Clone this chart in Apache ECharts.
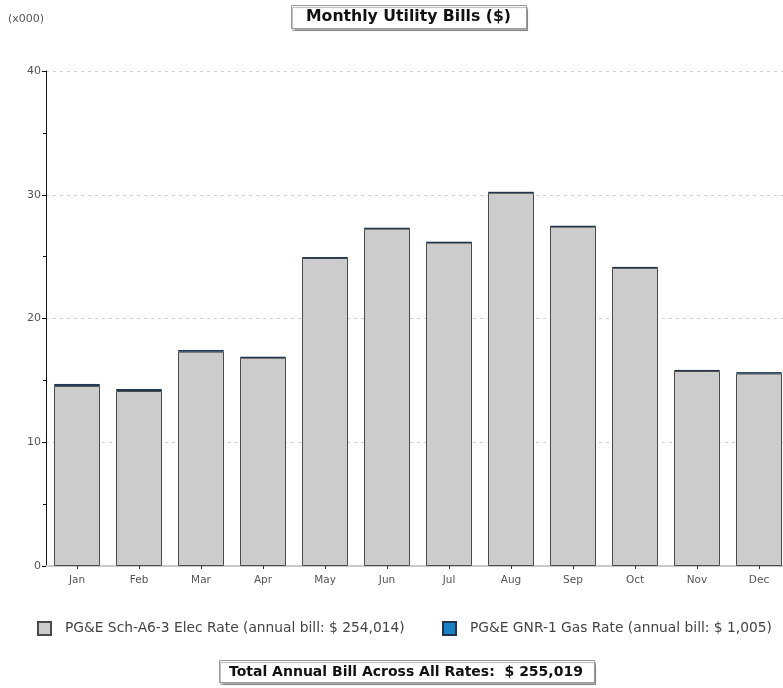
<!DOCTYPE html>
<html>
<head>
<meta charset="utf-8">
<script src="https://cdn.jsdelivr.net/npm/echarts@6/dist/echarts.min.js"></script>
<style>
  html, body { margin: 0; padding: 0; background: #fff; overflow: hidden; }
  /* the plot runs a few pixels past the right edge of the window */
  #chart { width: 800px; height: 688px; }
</style>
</head>
<body>
<div id="chart"></div>
<script>
// Monthly bills, in thousands of dollars
const months = ['Jan', 'Feb', 'Mar', 'Apr', 'May', 'Jun', 'Jul', 'Aug', 'Sep', 'Oct', 'Nov', 'Dec'];
const elecBill = [14.55, 14.14, 17.32, 16.83, 24.89, 27.26, 26.13, 30.16, 27.42, 24.09, 15.76, 15.56];
const gasBill = [0.16, 0.16, 0.13, 0.06, 0.05, 0.05, 0.05, 0.06, 0.05, 0.07, 0.08, 0.09];
const yTicks = [0, 10, 20, 30, 40];

const elecName = 'PG&E Sch-A6-3 Elec Rate (annual bill: $ 254,014)';
const gasName = 'PG&E GNR-1 Gas Rate (annual bill: $ 1,005)';
const totalText = 'Total Annual Bill Across All Rates:  $ 255,019';

const font = 'Verdana, "DejaVu Sans", sans-serif';

const chart = echarts.init(document.getElementById('chart'), null, { renderer: 'canvas' });

const legendBase = {
  orient: 'horizontal',
  top: 621,
  padding: 0,
  icon: 'rect',
  itemWidth: 13,
  itemHeight: 13,
  selectedMode: false,
  textStyle: { fontFamily: font, fontSize: 13.8, color: '#444', padding: [0, 0, 0, 9] }
};

const boxStyle = {
  borderColor: '#999',
  borderWidth: 1,
  backgroundColor: '#fff',
  shadowColor: 'rgba(0,0,0,0.3)',
  shadowOffsetX: 1,
  shadowOffsetY: 2,
  shadowBlur: 1
};

chart.setOption({
  animation: false,
  backgroundColor: '#fff',
  title: [
    Object.assign({
      text: 'Monthly Utility Bills ($)',
      left: 291,
      top: 5,
      padding: [4, 16, 4, 15],
      textStyle: { fontFamily: font, fontSize: 15.7, fontWeight: 'bold', color: '#111' }
    }, boxStyle),
    Object.assign({
      text: totalText,
      left: 219,
      top: 660,
      padding: [5, 12, 4, 10],
      textStyle: { fontFamily: font, fontSize: 14, fontWeight: 'bold', color: '#111' }
    }, boxStyle)
  ],
  legend: [
    Object.assign({}, legendBase, { left: 37, data: [elecName] }),
    Object.assign({}, legendBase, { left: 442, data: [gasName] })
  ],
  graphic: [
    {
      type: 'text',
      left: 8,
      top: 14,
      style: { text: '(x000)', fontFamily: font, fontSize: 11, fill: '#555' }
    }
  ],
  grid: { left: 46, top: 71, width: 744, height: 495, containLabel: false },
  xAxis: {
    type: 'category',
    data: months,
    axisLine: { show: true, lineStyle: { color: '#c8c8c8', width: 2 } },
    axisTick: { show: true, alignWithLabel: true, length: 3, lineStyle: { color: '#333' } },
    axisLabel: { fontFamily: font, fontSize: 10.5, color: '#555', margin: 9 },
    splitLine: { show: false }
  },
  yAxis: {
    type: 'value',
    min: yTicks[0],
    max: yTicks[yTicks.length - 1],
    interval: 10,
    axisLine: { show: true, lineStyle: { color: '#111', width: 1 } },
    axisTick: { show: true, length: 4, inside: false, lineStyle: { color: '#111' } },
    minorTick: { show: true, splitNumber: 2, length: 3, lineStyle: { color: '#111' } },
    axisLabel: { fontFamily: font, fontSize: 11, color: '#555', margin: 5 },
    splitLine: { show: true, lineStyle: { color: '#cfcfcf', type: [3, 4], width: 1 } }
  },
  series: [
    {
      name: elecName,
      type: 'bar',
      stack: 'bill',
      barWidth: 46,
      data: elecBill,
      itemStyle: { color: '#cccccc', borderColor: '#4a4a4a', borderWidth: 1 }
    },
    {
      name: gasName,
      type: 'bar',
      stack: 'bill',
      barWidth: 46,
      data: gasBill,
      itemStyle: { color: '#1a80c4', borderColor: '#1e3550', borderWidth: 1 }
    }
  ]
});
</script>
</body>
</html>
